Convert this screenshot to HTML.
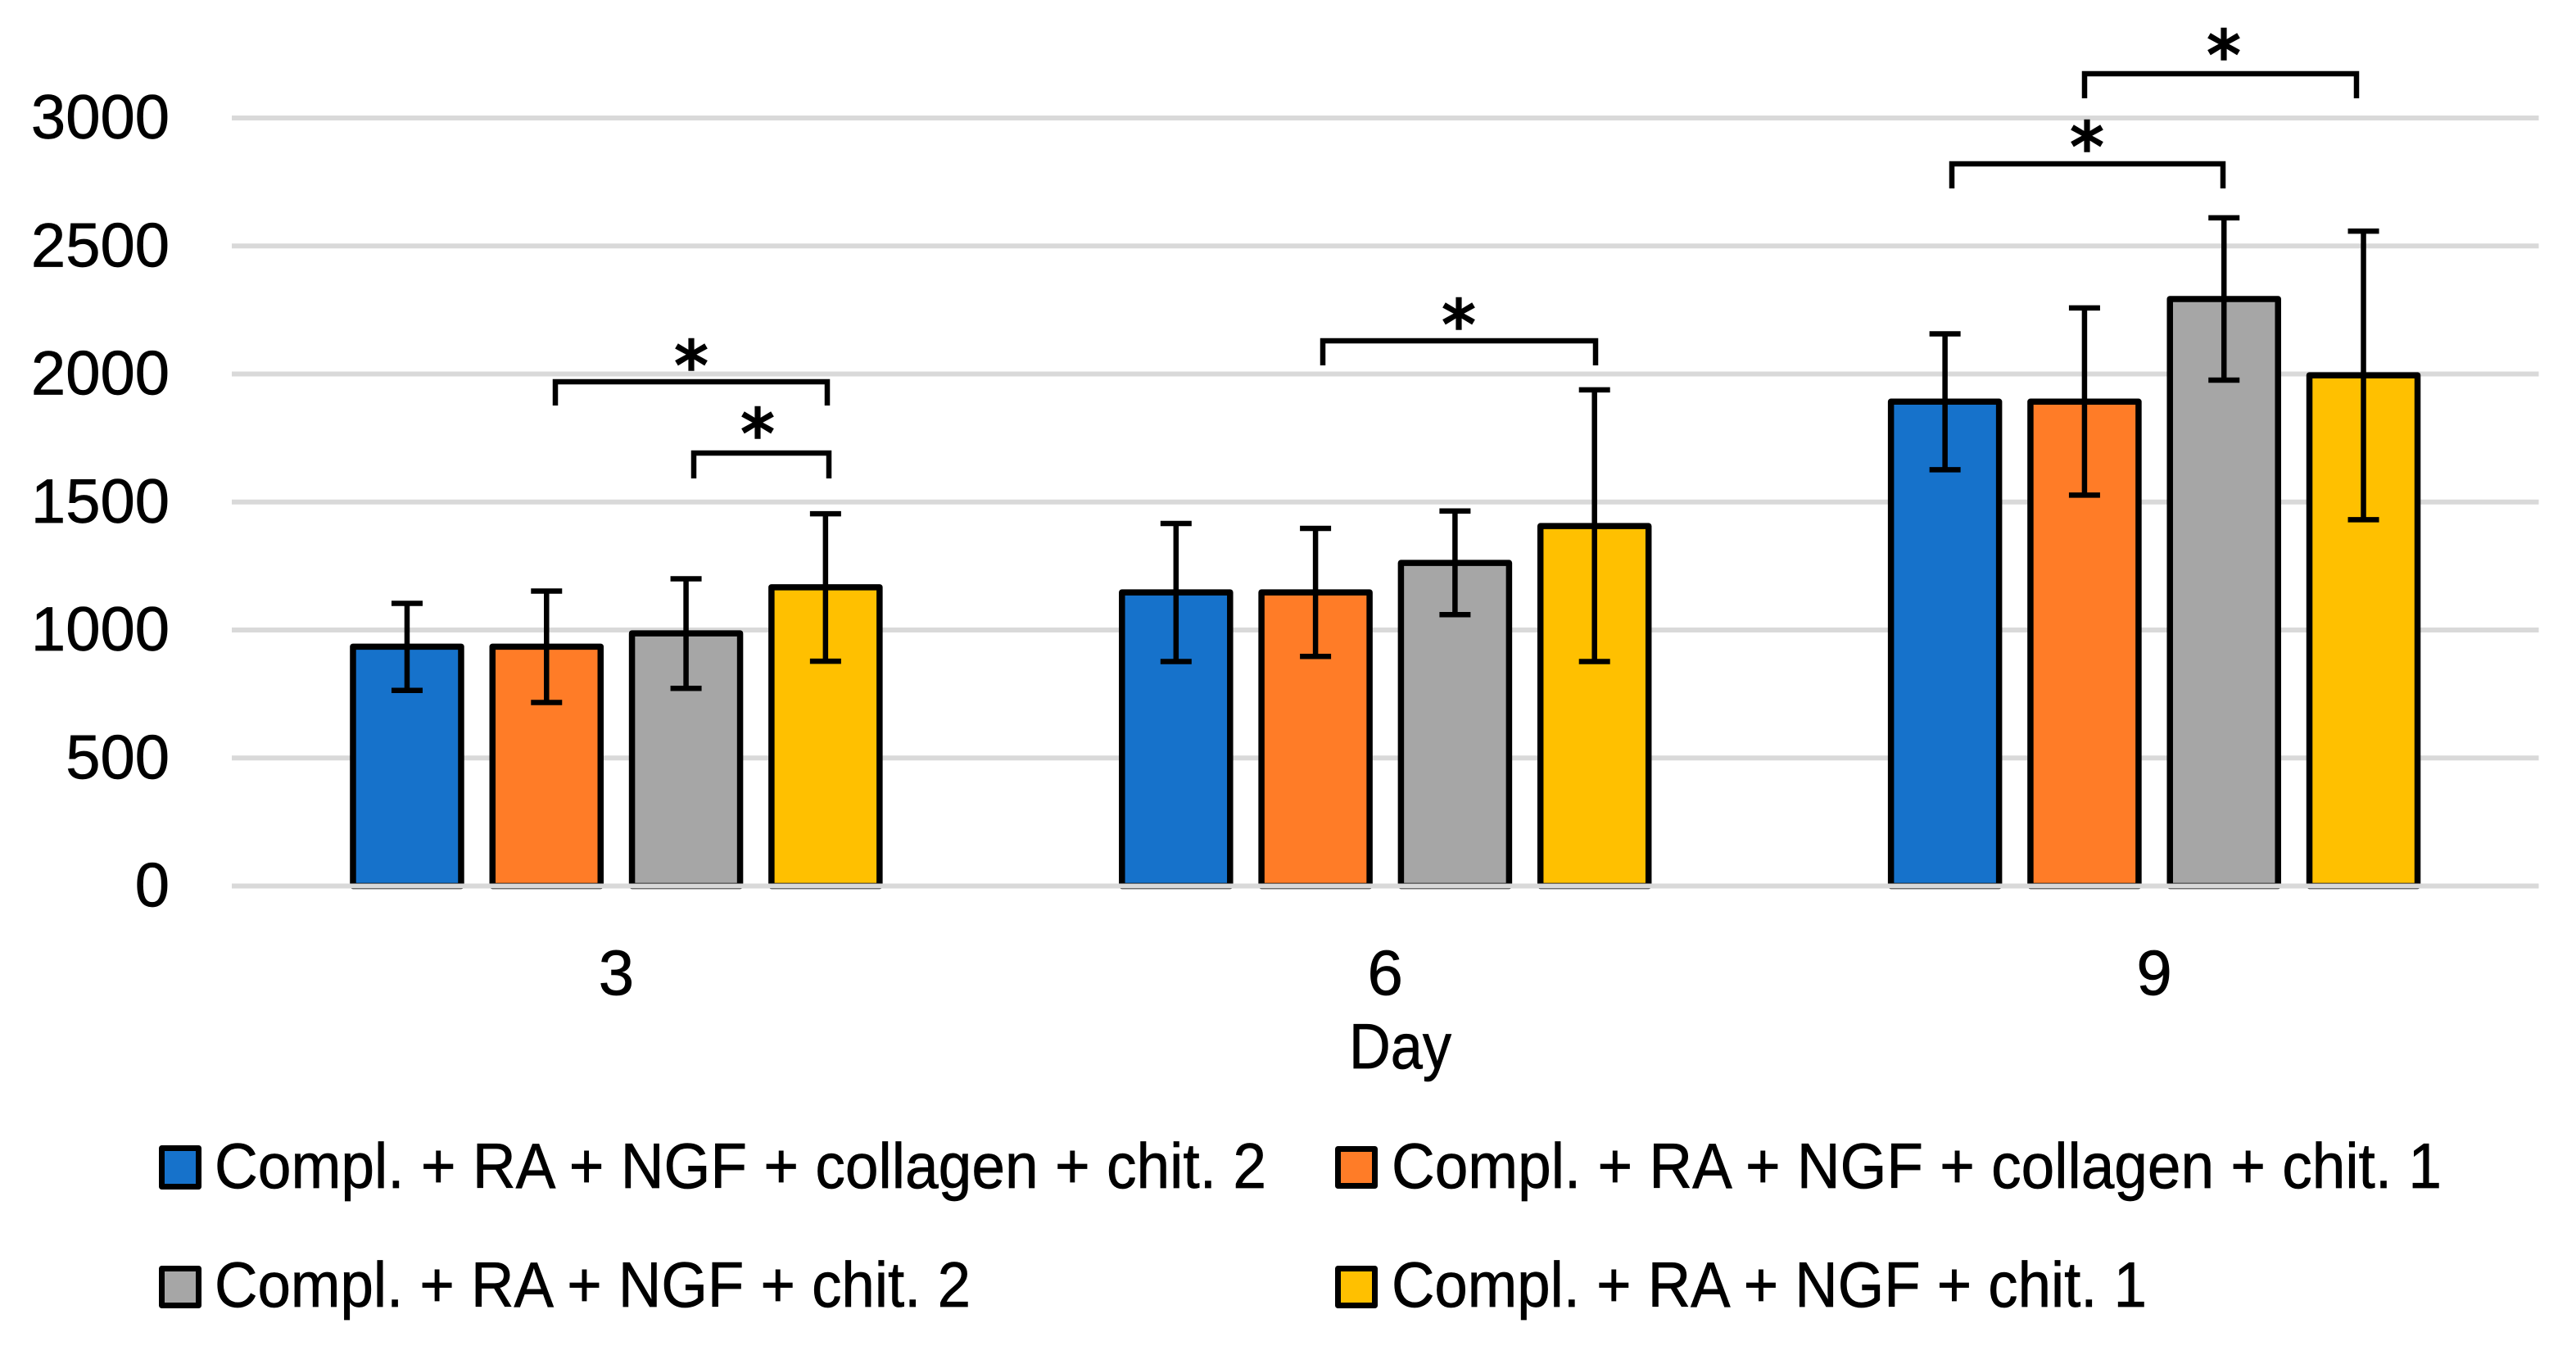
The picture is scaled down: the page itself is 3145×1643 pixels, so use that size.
<!DOCTYPE html>
<html>
<head>
<meta charset="utf-8">
<title>Bar chart by day</title>
<style>
html,body{margin:0;padding:0;background:#fff;}
svg{display:block;}
text{font-family:"Liberation Sans",sans-serif;fill:#000;}
.tk{font-size:78px;stroke:#000;stroke-width:0.7px;}
.yt{font-size:76px;stroke:#000;stroke-width:0.7px;}
.st{font-family:"DejaVu Sans",sans-serif;font-size:82px;text-anchor:middle;stroke:#000;stroke-width:2.6px;}
</style>
</head>
<body>
<svg id="chart" xmlns="http://www.w3.org/2000/svg" width="3145" height="1643" viewBox="0 0 3145 1643">
  <rect x="0" y="0" width="3145" height="1643" fill="#fff"/>
  <g id="grid"></g>
  <g id="yticks"></g>
  <g id="bars"></g>
  <g id="axis"></g>
  <g id="errs"></g>
  <g id="xticks"></g>

  <text class="tk" x="1647" y="1304" textLength="125" lengthAdjust="spacingAndGlyphs">Day</text>

  <g fill="none" stroke="#000" stroke-width="6.5">
    <path d="M678 495V466H1010V495"/>
    <path d="M847 584V553H1012V584"/>
    <path d="M1615 446V416H1948V446"/>
    <path d="M2383 230V200H2714V230"/>
    <path d="M2545 120V90H2877V120"/>
  </g>
  <text class="st" x="844" y="475">*</text>
  <text class="st" x="925" y="558">*</text>
  <text class="st" x="1781" y="425">*</text>
  <text class="st" x="2548" y="208">*</text>
  <text class="st" x="2715" y="96">*</text>

  <g>
    <g>
      <rect x="197.5" y="1401.5" width="45" height="47" fill="#1672cb" stroke="#000" stroke-width="7" stroke-linejoin="round"/>
      <text class="tk" x="262" y="1450" textLength="1284" lengthAdjust="spacingAndGlyphs">Compl. + RA + NGF + collagen + chit. 2</text>
    </g>
    <g>
      <rect x="1633.5" y="1402.5" width="45" height="45" fill="#ff7c27" stroke="#000" stroke-width="7" stroke-linejoin="round"/>
      <text class="tk" x="1699" y="1450" textLength="1282" lengthAdjust="spacingAndGlyphs">Compl. + RA + NGF + collagen + chit. 1</text>
    </g>
    <g>
      <rect x="197.5" y="1548.5" width="45" height="45" fill="#a6a6a6" stroke="#000" stroke-width="7" stroke-linejoin="round"/>
      <text class="tk" x="262" y="1595" textLength="923" lengthAdjust="spacingAndGlyphs">Compl. + RA + NGF + chit. 2</text>
    </g>
    <g>
      <rect x="1633.5" y="1548.5" width="45" height="45" fill="#ffc000" stroke="#000" stroke-width="7" stroke-linejoin="round"/>
      <text class="tk" x="1699" y="1595" textLength="922" lengthAdjust="spacingAndGlyphs">Compl. + RA + NGF + chit. 1</text>
    </g>
  </g>
</svg>
<script>
const categories = ["3", "6", "9"];
const yTickValues = [0, 500, 1000, 1500, 2000, 2500, 3000];
const collagenChit2 = [935, 1147, 1892];
const collagenChit1 = [935, 1147, 1892];
const chit2 = [987, 1262, 2293];
const chit1 = [1167, 1406, 1995];
const collagenChit2Upper = [1104, 1416, 2157];
const collagenChit1Upper = [1152, 1397, 2258];
const chit2Upper = [1200, 1465, 2610];
const chit1Upper = [1454, 1938, 2558];
const collagenChit2Lower = [764, 877, 1626];
const collagenChit1Lower = [717, 897, 1527];
const chit2Lower = [772, 1060, 1976];
const chit1Lower = [878, 877, 1431];

const NS = "http://www.w3.org/2000/svg";
const plotLeft = 283, plotRight = 3099.5, plotBottom = 1081.5, plotTop = 144, yMax = 3000;
const barPitch = 170.3, barOuter = 139.5, strokeW = 7.5, capW = 38;
const seriesValues = [collagenChit2, collagenChit1, chit2, chit1];
const seriesUpper = [collagenChit2Upper, collagenChit1Upper, chit2Upper, chit1Upper];
const seriesLower = [collagenChit2Lower, collagenChit1Lower, chit2Lower, chit1Lower];
const seriesColors = ["#1672cb", "#ff7c27", "#a6a6a6", "#ffc000"];

function yScale(v) { return plotBottom - (v / yMax) * (plotBottom - plotTop); }
function groupCenter(i) { return plotLeft + (i + 0.5) * (plotRight - plotLeft) / categories.length; }
function barCenter(i, s) { return groupCenter(i) + (s - (seriesValues.length - 1) / 2) * barPitch; }
function make(tag, attrs) {
  const el = document.createElementNS(NS, tag);
  for (const k in attrs) el.setAttribute(k, attrs[k]);
  return el;
}

const gridG = document.getElementById("grid");
const yticksG = document.getElementById("yticks");
yTickValues.forEach(function (v) {
  if (v !== 0) {
    const line = make("rect", { x: plotLeft, y: yScale(v) - 3, width: plotRight - plotLeft, height: 6, fill: "#d9d9d9" });
    
    
    gridG.appendChild(line);
  }
  const t = make("text", { x: 207, y: yScale(v) + 25, "text-anchor": "end", "class": "yt" });
  t.textContent = String(v);
  
  
  yticksG.appendChild(t);
});

const barsG = document.getElementById("bars");
const errsG = document.getElementById("errs");
const xticksG = document.getElementById("xticks");
categories.forEach(function (c, i) {
  seriesValues.forEach(function (vals, s) {
    const cx = barCenter(i, s);
    const top = yScale(vals[i]);
    const bar = make("rect", {
      x: cx - (barOuter - strokeW) / 2, y: top,
      width: barOuter - strokeW, height: yScale(0) - top,
      fill: seriesColors[s], stroke: "#000", "stroke-width": strokeW, "stroke-linejoin": "round"
    });
    
    
    barsG.appendChild(bar);

    const hi = yScale(seriesUpper[s][i]);
    const lo = yScale(seriesLower[s][i]);
    const err = make("path", {
      d: "M" + cx + " " + hi + "V" + lo + "M" + (cx - capW / 2) + " " + hi + "H" + (cx + capW / 2) + "M" + (cx - capW / 2) + " " + lo + "H" + (cx + capW / 2),
      fill: "none", stroke: "#000", "stroke-width": 6.5
    });
    
    
    errsG.appendChild(err);
  });
  const label = make("text", { x: groupCenter(i), y: 1214, "text-anchor": "middle", "class": "tk" });
  label.textContent = c;
  
  
  xticksG.appendChild(label);
});

const axisLine = make("rect", { x: plotLeft, y: yScale(0) - 3, width: plotRight - plotLeft, height: 6, fill: "#d9d9d9" });


document.getElementById("axis").appendChild(axisLine);
</script>
</body>
</html>
